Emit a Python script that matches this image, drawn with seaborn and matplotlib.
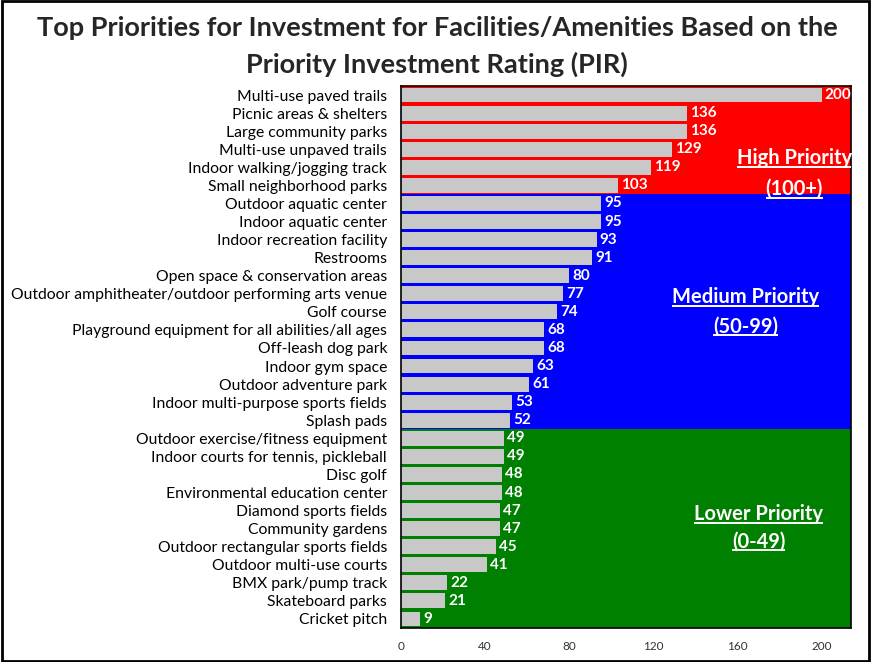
import matplotlib
matplotlib.use("Agg")
import matplotlib.pyplot as plt
import seaborn as sns
import pandas as pd

categories = [
    "Multi-use paved trails", "Picnic areas & shelters", "Large community parks",
    "Multi-use unpaved trails", "Indoor walking/jogging track", "Small neighborhood parks",
    "Outdoor aquatic center", "Indoor aquatic center", "Indoor recreation facility",
    "Restrooms", "Open space & conservation areas",
    "Outdoor amphitheater/outdoor performing arts venue", "Golf course",
    "Playground equipment for all abilities/all ages", "Off-leash dog park",
    "Indoor gym space", "Outdoor adventure park", "Indoor multi-purpose sports fields",
    "Splash pads", "Outdoor exercise/fitness equipment",
    "Indoor courts for tennis, pickleball", "Disc golf", "Environmental education center",
    "Diamond sports fields", "Community gardens", "Outdoor rectangular sports fields",
    "Outdoor multi-use courts", "BMX park/pump track", "Skateboard parks", "Cricket pitch",
]
values = [200, 136, 136, 129, 119, 103, 95, 95, 93, 91, 80, 77, 74, 68, 68, 63, 61,
          53, 52, 49, 49, 48, 48, 47, 47, 45, 41, 22, 21, 9]
x_ticks = [0, 40, 80, 120, 160, 200]
band_labels = [("High Priority", "(100+)"), ("Medium Priority", "(50-99)"),
               ("Lower Priority", "(0-49)")]
band_rows = [(0, 5), (6, 18), (19, 29)]
band_colors = ["#FF0000", "#0000FF", "#008000"]

sns.set_theme(style="white")
plt.rcParams["font.family"] = ["Lato", "DejaVu Sans"]

df = pd.DataFrame({"cat": categories, "val": values})

fig = plt.figure(figsize=(8.71, 6.62), dpi=100)
ax = fig.add_axes([401 / 871, 1 - 628 / 662, 450 / 871, 542 / 662])

for (r0, r1), c in zip(band_rows, band_colors):
    ax.axhspan(r0 - 0.5, r1 + 0.5, color=c, zorder=0, lw=0)

sns.barplot(data=df, x="val", y="cat", orient="h", color="#C8C8C8",
            saturation=1, width=0.82, ax=ax, zorder=2, linewidth=0)

for i, v in enumerate(values):
    ax.text(v + 1.5, i, str(v), color="white", fontweight="bold", fontsize=11,
            va="center", ha="left", zorder=3)

label_pos = [(187, 3.5, 5.2), (164, 11.2, 12.8), (170, 23.2, 24.7)]
for (l1, l2), (xc, y1, y2) in zip(band_labels, label_pos):
    ax.text(xc, y1, l1, color="white", fontweight="bold", fontsize=14.5,
            ha="center", va="center", zorder=4)
    ax.text(xc, y2, l2, color="white", fontweight="bold", fontsize=14.5,
            ha="center", va="center", zorder=4)

ax.set_xlim(0, 214)
ax.set_ylim(len(values) - 0.5, -0.5)
ax.set_xticks(x_ticks)
ax.set_xticklabels([str(t) for t in x_ticks], fontsize=8.5, color="#333333")
ax.set_yticks(range(len(categories)))
ax.set_yticklabels(categories, fontsize=11.3, color="black")
ax.tick_params(axis="y", length=0, pad=10)
ax.tick_params(axis="x", length=0, pad=9)
ax.set_xlabel("")
ax.set_ylabel("")
for s in ax.spines.values():
    s.set_visible(True)
    s.set_color("black")
    s.set_linewidth(1.2)

fig.text(437 / 871, 1 - 28 / 662, "Top Priorities for Investment for Facilities/Amenities Based on the",
         ha="center", va="center", fontsize=19.5, fontweight="bold")
fig.text(437 / 871, 1 - 64 / 662, "Priority Investment Rating (PIR)",
         ha="center", va="center", fontsize=19.5, fontweight="bold")

fig.patches.append(plt.Rectangle((0.002, 0.002), 0.996, 0.996, transform=fig.transFigure,
                                 fill=False, edgecolor="black", linewidth=2))

# underline band labels
fig.canvas.draw()
renderer = fig.canvas.get_renderer()
inv = ax.transData.inverted()
for t in ax.texts[len(values):]:
    bb = t.get_window_extent(renderer)
    (x0, y0), (x1, _) = inv.transform([(bb.x0, bb.y0), (bb.x1, bb.y0)])
    ax.plot([x0, x1], [y0 - 0.05, y0 - 0.05], color="white", lw=1.4, zorder=4,
            solid_capstyle="butt")
ax.set_xlim(0, 214)
ax.set_ylim(len(values) - 0.5, -0.5)

fig.savefig("out.png", dpi=100)
